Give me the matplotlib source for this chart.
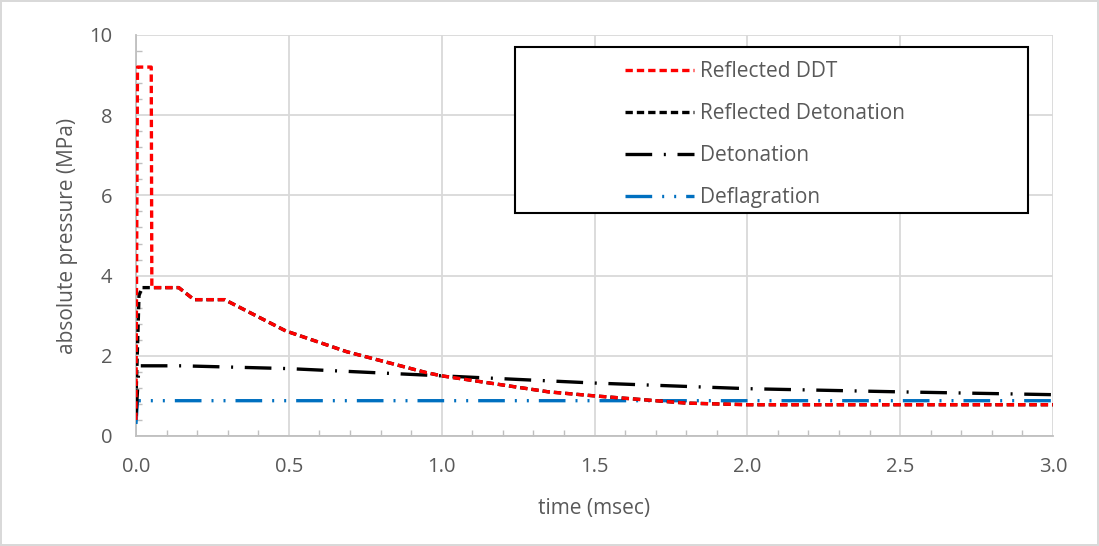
import matplotlib
matplotlib.use("Agg")
import matplotlib.pyplot as plt
from matplotlib.patches import Rectangle
from matplotlib.ticker import MultipleLocator, FormatStrFormatter

# time (msec) / absolute pressure (MPa)
t_ddt = [0.0, 0.005, 0.05, 0.052, 0.14, 0.19, 0.29, 0.49, 0.69, 0.95, 1.0, 1.35, 1.5, 1.8, 2.0, 3.0]
p_ddt = [0.4, 9.2, 9.2, 3.7, 3.7, 3.4, 3.4, 2.62, 2.1, 1.58, 1.5, 1.1, 1.0, 0.82, 0.78, 0.78]

t_refl = [0.0, 0.01, 0.02, 0.14, 0.19, 0.29, 0.49, 0.69, 0.95, 1.0, 1.35, 1.5, 1.8, 2.0, 3.0]
p_refl = [0.9, 3.5, 3.7, 3.7, 3.4, 3.4, 2.62, 2.1, 1.58, 1.5, 1.1, 1.0, 0.82, 0.78, 0.78]

t_det = [0.0, 0.01, 0.15, 0.5, 1.0, 1.5, 2.0, 2.5, 3.0]
p_det = [0.5, 1.75, 1.75, 1.68, 1.5, 1.32, 1.18, 1.1, 1.03]

t_defl = [0.0, 0.005, 3.0]
p_defl = [0.3, 0.88, 0.88]

labels = ["Reflected DDT", "Reflected Detonation", "Detonation", "Deflagration"]

fnt = "Open Sans"
txt = "#595959"

fig = plt.figure(figsize=(10.99, 5.46), dpi=100)
fig.patch.set_edgecolor("#d9d9d9")
fig.patch.set_linewidth(1.5)
ax = fig.add_axes([0.1237, 0.2015, 0.8345, 0.7344])

lw = 2.4
ax.plot(t_defl, p_defl, color="#0070c0", lw=lw, dashes=(8, 3, 0.6, 3, 0.6, 3), label=labels[3], zorder=3)
ax.plot(t_det, p_det, color="black", lw=lw, dashes=(8, 3.5, 0.6, 3.5), label=labels[2], zorder=4)
ax.plot(t_refl, p_refl, color="black", lw=lw, dashes=(2.2, 1.2), label=labels[1], zorder=5)
ax.plot(t_ddt, p_ddt, color="#ff0000", lw=lw, dashes=(2.2, 1.2), dash_capstyle="butt",
        label=labels[0], zorder=6)

ax.set_xlim(0, 3.0)
ax.set_ylim(0, 10)
ax.xaxis.set_major_locator(MultipleLocator(0.5))
ax.xaxis.set_minor_locator(MultipleLocator(0.1))
ax.yaxis.set_major_locator(MultipleLocator(2))
ax.yaxis.set_minor_locator(MultipleLocator(0.4))
ax.xaxis.set_major_formatter(FormatStrFormatter("%.1f"))
ax.yaxis.set_major_formatter(FormatStrFormatter("%d"))

ax.grid(True, which="major", color="#d9d9d9", lw=1.3)
ax.set_axisbelow(True)
for s in ["top", "right"]:
    ax.spines[s].set_visible(False)
for s in ["left", "bottom"]:
    ax.spines[s].set_color("#bfbfbf")
    ax.spines[s].set_linewidth(1.3)
ax.tick_params(which="major", length=0, labelsize=14.5, labelcolor=txt)
ax.tick_params(axis="x", which="major", pad=15)
ax.tick_params(axis="y", which="major", pad=17)
ax.tick_params(which="minor", direction="in", length=4, color="#bfbfbf", width=1)
for lab in ax.get_xticklabels() + ax.get_yticklabels():
    lab.set_fontfamily(fnt)

ax.set_xlabel("time (msec)", fontsize=15, color=txt, family=fnt, labelpad=15)
ax.set_ylabel("absolute pressure (MPa)", fontsize=15, color=txt, family=fnt, labelpad=8)

# legend box
ax.add_patch(Rectangle((0.413, 0.556), 0.560, 0.414, transform=ax.transAxes,
                       fill=True, facecolor="white", edgecolor="black", lw=1.5, zorder=10))
handles, labs = ax.get_legend_handles_labels()
order = [3, 2, 1, 0]
leg = ax.legend([handles[i] for i in order], [labs[i] for i in order],
                loc="upper left", bbox_to_anchor=(0.522, 0.96), frameon=False,
                borderpad=0, handlelength=3.3, handletextpad=0.3, labelspacing=1.0,
                prop={"family": fnt, "size": 15})
leg.set_zorder(11)
for t in leg.get_texts():
    t.set_color(txt)

fig.savefig("out.png", dpi=100)
